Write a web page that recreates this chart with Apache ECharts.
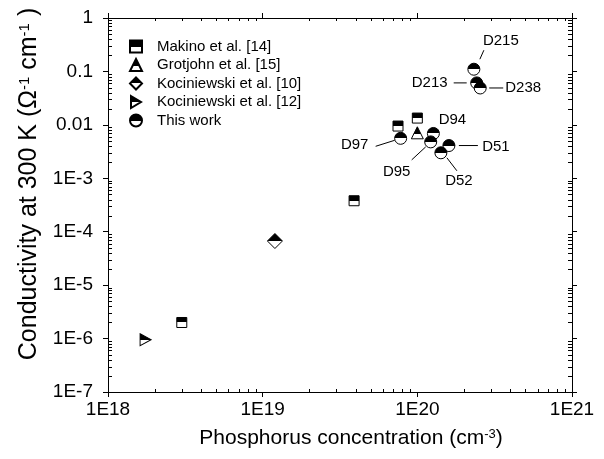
<!DOCTYPE html>
<html>
<head>
<meta charset="utf-8">
<script src="https://cdn.jsdelivr.net/npm/echarts@6/dist/echarts.min.js"></script>
<style>
html, body { margin: 0; padding: 0; background: #fff; }
#chart { width: 604px; height: 459px; }
</style>
</head>
<body>
<div id="chart"></div>
<script>
// ---- data ----
var makinoX = [3.0e18, 3.9e19, 7.5e19, 1.0e20];
var makinoY = [2.0e-6, 3.8e-4, 9.5e-3, 1.34e-2];
var grotjohnX = [1.0e20];
var grotjohnY = [7.1e-3];
var koc10X = [1.2e19];
var koc10Y = [6.7e-5];
var koc12X = [1.75e18];
var koc12Y = [9.5e-7];
var workNames = ['D215', 'D213', 'D238', 'D94', 'D97', 'D95', 'D51', 'D52'];
var workX = [2.32e20, 2.42e20, 2.55e20, 1.27e20, 7.8e19, 1.22e20, 1.6e20, 1.42e20];
var workY = [0.11, 0.061, 0.049, 0.0069, 0.0056, 0.0048, 0.0041, 0.0030];
var legendNames = ['Makino et al. [14]', 'Grotjohn et al. [15]', 'Kociniewski et al. [10]', 'Kociniewski et al. [12]', 'This work'];
var yTickLabels = ['1E-7', '1E-6', '1E-5', '1E-4', '1E-3', '0.01', '0.1', '1'];

// label offsets for "This work" points (px from the point): text centre and leader line
var noteLayout = [
    {dx: 27, dy: -28, line: [6, -10, 10, -19]},
    {dx: -47, dy: 0, line: [-23, 0, -10, 0]},
    {dx: 43, dy: 0, line: [9, 0, 23, 0]},
    {dx: 19, dy: -14},
    {dx: -46, dy: 7, line: [-25, 8, -6, 2]},
    {dx: -34, dy: 30, line: [-19, 18, -5, 5]},
    {dx: 47, dy: 1, line: [10, 0, 29, 0]},
    {dx: 18, dy: 28, line: [6, 5, 16, 18]}
];

var FONT = 'Liberation Sans, Arial, sans-serif';

function pairs(xs, ys) {
    return xs.map(function (x, i) { return [x, ys[i]]; });
}
// 上半黑，下半白
function half(stop) {
    return new echarts.graphic.LinearGradient(0, 0, 0, 1, [
        {offset: 0, color: '#000'},
        {offset: stop, color: '#000'},
        {offset: stop, color: '#fff'},
        {offset: 1, color: '#fff'}
    ]);
}
function markStyle(stop) {
    return {color: half(stop), borderColor: '#000', borderWidth: 1, opacity: 1};
}
// minor tick positions 2..9 per decade
var minorX = [], minorY = [];
(function () {
    var d, m;
    for (d = 18; d < 21; d++) for (m = 2; m <= 9; m++) minorX.push(m * Math.pow(10, d));
    for (d = -7; d < 0; d++) for (m = 2; m <= 9; m++) minorY.push(m * Math.pow(10, d));
})();

var lineStyle = {color: '#000', width: 1};

function makeX(pos) {
    return {
        type: 'log', min: 1e18, max: 1e21, position: pos,
        axisLine: {show: true, onZero: false, lineStyle: lineStyle},
        axisTick: {show: true, inside: false, length: 5, lineStyle: lineStyle},
        axisLabel: {show: false},
        splitLine: {show: false}
    };
}
function makeY(pos) {
    return {
        type: 'log', min: 1e-7, max: 1, position: pos,
        axisLine: {show: true, onZero: false, lineStyle: lineStyle},
        axisTick: {show: true, inside: false, length: 5, lineStyle: lineStyle},
        axisLabel: {show: false},
        splitLine: {show: false}
    };
}

var xAxes = [makeX('bottom'), makeX('top')];
xAxes[0].axisLabel = {
    show: true, margin: 8, color: '#000', fontSize: 19, fontFamily: FONT,
    formatter: function (v) { return '1E' + Math.round(Math.log10(v)); }
};
xAxes[0].name = 'Phosphorus concentration (cm{sup|-3})';
xAxes[0].nameLocation = 'middle';
xAxes[0].nameGap = 36;
xAxes[0].nameTextStyle = {
    color: '#000', fontSize: 21, fontFamily: FONT, padding: [0, 0, 0, 22],
    rich: {sup: {fontSize: 13, fontFamily: FONT, color: '#000', verticalAlign: 'top', lineHeight: 14}}
};

var yAxes = [makeY('left'), makeY('right')];
yAxes[0].axisLabel = {
    show: true, margin: 15, color: '#000', fontSize: 19, fontFamily: FONT,
    formatter: function (v) { return yTickLabels[Math.round(Math.log10(v)) + 7]; }
};
yAxes[0].name = 'Conductivity at 300 K (Ω{sup|-1} cm{sup|-1} )';
yAxes[0].nameLocation = 'middle';
yAxes[0].nameGap = 62;
yAxes[0].nameTextStyle = {
    color: '#000', fontSize: 25, fontFamily: FONT, padding: [0, 0, 0, 42],
    rich: {sup: {fontSize: 15, fontFamily: FONT, color: '#000', verticalAlign: 'top', lineHeight: 16}}
};

var chart = echarts.init(document.getElementById('chart'), null, {renderer: 'canvas'});
var option = {
    backgroundColor: '#fff',
    animation: false,
    grid: {left: 108, right: 32, top: 18, bottom: 67, containLabel: false},
    xAxis: xAxes,
    yAxis: yAxes,
    legend: {
        orient: 'vertical', left: 124, top: 34,
        itemWidth: 12, itemHeight: 12, itemGap: 3.5,
        data: legendNames,
        textStyle: {color: '#000', fontSize: 15, lineHeight: 15, fontFamily: FONT, padding: [0, 0, 0, 10]}
    },
    series: [
        {name: legendNames[0], type: 'scatter', symbol: 'rect', symbolSize: 10,
         itemStyle: markStyle(0.5), data: pairs(makinoX, makinoY)},
        {name: legendNames[1], type: 'scatter', symbol: 'triangle', symbolSize: 12,
         itemStyle: markStyle(0.6), data: pairs(grotjohnX, grotjohnY)},
        {name: legendNames[2], type: 'scatter', symbol: 'diamond', symbolSize: 15,
         itemStyle: markStyle(0.5), data: pairs(koc10X, koc10Y)},
        {name: legendNames[3], type: 'scatter', symbol: 'path://M0,0L10,6L0,12Z', symbolSize: [11, 12],
         itemStyle: markStyle(0.5), data: pairs(koc12X, koc12Y)},
        {name: legendNames[4], type: 'scatter', symbol: 'circle', symbolSize: 12,
         itemStyle: markStyle(0.5), data: pairs(workX, workY)},
        // 次刻度 (x)：朝内，上下两边
        {type: 'custom', name: 'xticks', silent: true,
         data: minorX.map(function (v) { return [v, 1e-3]; }),
         renderItem: function (params, api) {
             var cs = params.coordSys;
             var px = Math.round(api.coord([api.value(0), api.value(1)])[0]) + 0.5;
             var yb = cs.y + cs.height;
             return {type: 'group', children: [
                 {type: 'line', shape: {x1: px, y1: yb, x2: px, y2: yb - 3}, style: {stroke: '#000', lineWidth: 1}},
                 {type: 'line', shape: {x1: px, y1: cs.y, x2: px, y2: cs.y + 3}, style: {stroke: '#000', lineWidth: 1}}
             ]};
         }},
        // 次刻度 (y)：朝内，左右两边
        {type: 'custom', name: 'yticks', silent: true,
         data: minorY.map(function (v) { return [1e19, v]; }),
         renderItem: function (params, api) {
             var cs = params.coordSys;
             var py = Math.round(api.coord([api.value(0), api.value(1)])[1]) + 0.5;
             var xr = cs.x + cs.width;
             return {type: 'group', children: [
                 {type: 'line', shape: {x1: cs.x, y1: py, x2: cs.x + 4, y2: py}, style: {stroke: '#000', lineWidth: 1}},
                 {type: 'line', shape: {x1: xr, y1: py, x2: xr - 4, y2: py}, style: {stroke: '#000', lineWidth: 1}}
             ]};
         }},
        // 标注：样品编号和引线
        {type: 'custom', name: 'notes', silent: true,
         data: pairs(workX, workY),
         renderItem: function (params, api) {
             var p = api.coord([api.value(0), api.value(1)]);
             var o = noteLayout[params.dataIndex];
             var kids = [{
                 type: 'text', x: p[0] + o.dx, y: p[1] + o.dy,
                 style: {text: workNames[params.dataIndex], fill: '#000', fontSize: 15,
                         fontFamily: FONT, align: 'center', verticalAlign: 'middle'}
             }];
             if (o.line) {
                 kids.push({
                     type: 'line',
                     shape: {x1: p[0] + o.line[0], y1: p[1] + o.line[1], x2: p[0] + o.line[2], y2: p[1] + o.line[3]},
                     style: {stroke: '#000', lineWidth: 1}
                 });
             }
             return {type: 'group', children: kids};
         }}
    ]
};
chart.setOption(option);
</script>
</body>
</html>
